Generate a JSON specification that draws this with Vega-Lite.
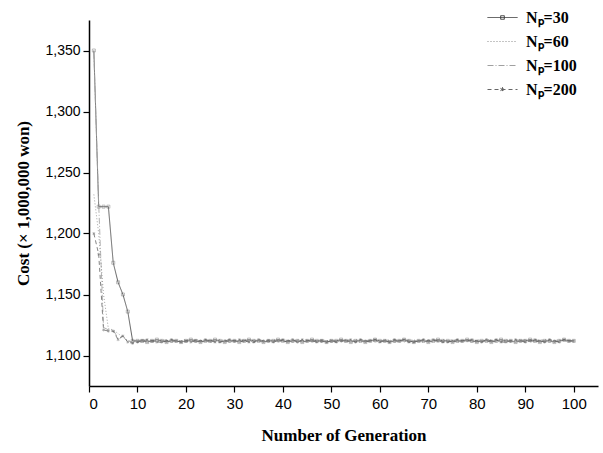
{
  "$schema": "https://vega.github.io/schema/vega-lite/v6.json",
  "width": 509,
  "height": 366,
  "autosize": {"type": "none"},
  "padding": {"left": 89, "top": 20, "right": 5, "bottom": 67},
  "background": "white",
  "config": {
    "view": {"stroke": null},
    "axis": {
      "grid": false,
      "domainColor": "black",
      "domainWidth": 1.5,
      "tickColor": "black",
      "tickWidth": 1.2,
      "labelColor": "black",
      "titleColor": "black",
      "labelFont": "Liberation Sans",
      "titleFont": "Liberation Serif",
      "titleFontWeight": "bold",
      "titleFontSize": 17
    }
  },
  "data": {
    "values": [
      {"g": 1, "n30": 1350, "n60": 1232, "n100": 1348, "n200": 1200},
      {"g": 2, "n30": 1222, "n60": 1200, "n100": 1224, "n200": 1183},
      {"g": 3, "n30": 1222, "n60": 1150, "n100": 1123, "n200": 1121},
      {"g": 4, "n30": 1222, "n60": 1122, "n100": 1121, "n200": 1120},
      {"g": 5, "n30": 1176, "n60": 1121, "n100": 1121, "n200": 1120},
      {"g": 6, "n30": 1160, "n60": 1118, "n100": 1114, "n200": 1113},
      {"g": 7, "n30": 1150, "n60": 1115, "n100": 1116, "n200": 1116},
      {"g": 8, "n30": 1136, "n60": 1112, "n100": 1112, "n200": 1111},
      {"g": 9, "n30": 1112, "n60": 1112, "n100": 1111, "n200": 1110},
      {"g": 10, "n30": 1112, "n60": 1111, "n100": 1112, "n200": 1111},
      {"g": 11, "n30": 1112, "n60": 1111, "n100": 1113, "n200": 1112},
      {"g": 12, "n30": 1111, "n60": 1112, "n100": 1112, "n200": 1113},
      {"g": 13, "n30": 1112, "n60": 1112, "n100": 1111, "n200": 1112},
      {"g": 14, "n30": 1113, "n60": 1111, "n100": 1112, "n200": 1111},
      {"g": 15, "n30": 1112, "n60": 1113, "n100": 1112, "n200": 1111},
      {"g": 16, "n30": 1111, "n60": 1112, "n100": 1113, "n200": 1112},
      {"g": 17, "n30": 1112, "n60": 1112, "n100": 1111, "n200": 1113},
      {"g": 18, "n30": 1112, "n60": 1111, "n100": 1112, "n200": 1112},
      {"g": 19, "n30": 1111, "n60": 1112, "n100": 1112, "n200": 1111},
      {"g": 20, "n30": 1112, "n60": 1113, "n100": 1111, "n200": 1112},
      {"g": 21, "n30": 1113, "n60": 1112, "n100": 1112, "n200": 1111},
      {"g": 22, "n30": 1112, "n60": 1111, "n100": 1113, "n200": 1112},
      {"g": 23, "n30": 1111, "n60": 1112, "n100": 1112, "n200": 1112},
      {"g": 24, "n30": 1112, "n60": 1112, "n100": 1112, "n200": 1113},
      {"g": 25, "n30": 1112, "n60": 1111, "n100": 1111, "n200": 1112},
      {"g": 26, "n30": 1113, "n60": 1112, "n100": 1112, "n200": 1111},
      {"g": 27, "n30": 1112, "n60": 1113, "n100": 1112, "n200": 1111},
      {"g": 28, "n30": 1111, "n60": 1112, "n100": 1113, "n200": 1112},
      {"g": 29, "n30": 1112, "n60": 1112, "n100": 1111, "n200": 1113},
      {"g": 30, "n30": 1112, "n60": 1111, "n100": 1112, "n200": 1112},
      {"g": 31, "n30": 1111, "n60": 1112, "n100": 1112, "n200": 1113},
      {"g": 32, "n30": 1112, "n60": 1113, "n100": 1111, "n200": 1112},
      {"g": 33, "n30": 1113, "n60": 1112, "n100": 1112, "n200": 1111},
      {"g": 34, "n30": 1112, "n60": 1111, "n100": 1113, "n200": 1111},
      {"g": 35, "n30": 1112, "n60": 1112, "n100": 1112, "n200": 1113},
      {"g": 36, "n30": 1111, "n60": 1112, "n100": 1111, "n200": 1112},
      {"g": 37, "n30": 1112, "n60": 1111, "n100": 1113, "n200": 1112},
      {"g": 38, "n30": 1112, "n60": 1113, "n100": 1112, "n200": 1111},
      {"g": 39, "n30": 1113, "n60": 1112, "n100": 1111, "n200": 1112},
      {"g": 40, "n30": 1112, "n60": 1112, "n100": 1112, "n200": 1113},
      {"g": 41, "n30": 1111, "n60": 1111, "n100": 1113, "n200": 1112},
      {"g": 42, "n30": 1112, "n60": 1112, "n100": 1111, "n200": 1113},
      {"g": 43, "n30": 1112, "n60": 1113, "n100": 1112, "n200": 1111},
      {"g": 44, "n30": 1111, "n60": 1112, "n100": 1112, "n200": 1113},
      {"g": 45, "n30": 1112, "n60": 1111, "n100": 1113, "n200": 1112},
      {"g": 46, "n30": 1113, "n60": 1112, "n100": 1111, "n200": 1112},
      {"g": 47, "n30": 1112, "n60": 1112, "n100": 1112, "n200": 1111},
      {"g": 48, "n30": 1112, "n60": 1111, "n100": 1113, "n200": 1112},
      {"g": 49, "n30": 1111, "n60": 1112, "n100": 1112, "n200": 1111},
      {"g": 50, "n30": 1112, "n60": 1113, "n100": 1111, "n200": 1112},
      {"g": 51, "n30": 1112, "n60": 1112, "n100": 1112, "n200": 1111},
      {"g": 52, "n30": 1113, "n60": 1112, "n100": 1111, "n200": 1112},
      {"g": 53, "n30": 1112, "n60": 1111, "n100": 1113, "n200": 1112},
      {"g": 54, "n30": 1111, "n60": 1112, "n100": 1112, "n200": 1113},
      {"g": 55, "n30": 1112, "n60": 1113, "n100": 1112, "n200": 1111},
      {"g": 56, "n30": 1112, "n60": 1112, "n100": 1111, "n200": 1113},
      {"g": 57, "n30": 1111, "n60": 1111, "n100": 1112, "n200": 1112},
      {"g": 58, "n30": 1112, "n60": 1112, "n100": 1113, "n200": 1112},
      {"g": 59, "n30": 1113, "n60": 1112, "n100": 1111, "n200": 1113},
      {"g": 60, "n30": 1112, "n60": 1111, "n100": 1112, "n200": 1111},
      {"g": 61, "n30": 1112, "n60": 1113, "n100": 1112, "n200": 1112},
      {"g": 62, "n30": 1111, "n60": 1112, "n100": 1113, "n200": 1111},
      {"g": 63, "n30": 1112, "n60": 1112, "n100": 1111, "n200": 1113},
      {"g": 64, "n30": 1112, "n60": 1111, "n100": 1112, "n200": 1112},
      {"g": 65, "n30": 1113, "n60": 1112, "n100": 1111, "n200": 1113},
      {"g": 66, "n30": 1112, "n60": 1112, "n100": 1113, "n200": 1111},
      {"g": 67, "n30": 1111, "n60": 1113, "n100": 1112, "n200": 1111},
      {"g": 68, "n30": 1112, "n60": 1111, "n100": 1112, "n200": 1112},
      {"g": 69, "n30": 1112, "n60": 1112, "n100": 1111, "n200": 1113},
      {"g": 70, "n30": 1111, "n60": 1112, "n100": 1113, "n200": 1112},
      {"g": 71, "n30": 1112, "n60": 1111, "n100": 1112, "n200": 1113},
      {"g": 72, "n30": 1113, "n60": 1112, "n100": 1111, "n200": 1112},
      {"g": 73, "n30": 1112, "n60": 1113, "n100": 1112, "n200": 1111},
      {"g": 74, "n30": 1112, "n60": 1112, "n100": 1112, "n200": 1111},
      {"g": 75, "n30": 1111, "n60": 1112, "n100": 1113, "n200": 1112},
      {"g": 76, "n30": 1112, "n60": 1111, "n100": 1112, "n200": 1113},
      {"g": 77, "n30": 1112, "n60": 1112, "n100": 1111, "n200": 1112},
      {"g": 78, "n30": 1113, "n60": 1113, "n100": 1112, "n200": 1112},
      {"g": 79, "n30": 1112, "n60": 1112, "n100": 1111, "n200": 1113},
      {"g": 80, "n30": 1111, "n60": 1111, "n100": 1113, "n200": 1112},
      {"g": 81, "n30": 1112, "n60": 1112, "n100": 1112, "n200": 1111},
      {"g": 82, "n30": 1112, "n60": 1112, "n100": 1113, "n200": 1113},
      {"g": 83, "n30": 1111, "n60": 1113, "n100": 1112, "n200": 1112},
      {"g": 84, "n30": 1112, "n60": 1111, "n100": 1112, "n200": 1113},
      {"g": 85, "n30": 1113, "n60": 1112, "n100": 1111, "n200": 1111},
      {"g": 86, "n30": 1112, "n60": 1112, "n100": 1113, "n200": 1111},
      {"g": 87, "n30": 1112, "n60": 1111, "n100": 1112, "n200": 1112},
      {"g": 88, "n30": 1111, "n60": 1112, "n100": 1111, "n200": 1113},
      {"g": 89, "n30": 1112, "n60": 1113, "n100": 1112, "n200": 1112},
      {"g": 90, "n30": 1112, "n60": 1112, "n100": 1113, "n200": 1111},
      {"g": 91, "n30": 1113, "n60": 1112, "n100": 1111, "n200": 1112},
      {"g": 92, "n30": 1112, "n60": 1111, "n100": 1112, "n200": 1113},
      {"g": 93, "n30": 1111, "n60": 1112, "n100": 1113, "n200": 1112},
      {"g": 94, "n30": 1112, "n60": 1113, "n100": 1112, "n200": 1111},
      {"g": 95, "n30": 1112, "n60": 1112, "n100": 1111, "n200": 1113},
      {"g": 96, "n30": 1111, "n60": 1111, "n100": 1112, "n200": 1112},
      {"g": 97, "n30": 1112, "n60": 1112, "n100": 1113, "n200": 1111},
      {"g": 98, "n30": 1113, "n60": 1112, "n100": 1112, "n200": 1113},
      {"g": 99, "n30": 1112, "n60": 1111, "n100": 1112, "n200": 1112},
      {"g": 100, "n30": 1112, "n60": 1112, "n100": 1111, "n200": 1112}
    ]
  },
  "transform": [{"fold": ["n30", "n60", "n100", "n200"], "as": ["series", "cost"]}],
  "layer": [
    {
      "mark": {"type": "line", "strokeWidth": 0.8, "clip": true},
      "encoding": {
        "x": {
          "field": "g",
          "type": "quantitative",
          "scale": {"domain": [0, 105], "nice": false},
          "axis": {
            "title": "Number of Generation",
            "values": [0, 5, 10, 15, 20, 25, 30, 35, 40, 45, 50, 55, 60, 65, 70, 75, 80, 85, 90, 95, 100],
            "labelExpr": "datum.value % 10 === 0 ? datum.label : ''",
            "labelFontSize": 15,
            "labelPadding": 4,
            "tickSize": 6,
            "titlePadding": 16
          }
        },
        "y": {
          "field": "cost",
          "type": "quantitative",
          "scale": {"domain": [1075, 1375], "nice": false, "zero": false},
          "axis": {
            "title": "Cost (× 1,000,000 won)",
            "values": [1100, 1125, 1150, 1175, 1200, 1225, 1250, 1275, 1300, 1325, 1350, 1375],
            "format": ",d",
            "labelExpr": "datum.value % 50 === 0 ? datum.label : ''",
            "labelFontSize": 14,
            "labelPadding": 3,
            "tickSize": 6,
            "titlePadding": 12
          }
        },
        "color": {
          "field": "series",
          "type": "nominal",
          "scale": {"domain": ["n30", "n60", "n100", "n200"], "range": ["#3a3a3a", "#8a8a8a", "#a0a0a0", "#666666"]},
          "legend": {
            "title": null,
            "orient": "none",
            "legendX": 398,
            "legendY": -18,
            "symbolSize": 900,
            "symbolStrokeWidth": 1,
            "rowPadding": -6,
            "labelOffset": 8,
            "labelFont": "Liberation Serif",
            "labelFontWeight": "bold",
            "labelFontSize": 16,
            "labelColor": "black",
            "labelExpr": "'Nₚ=' + slice(datum.label, 1)",
            "encode": {
              "symbols": {
                "update": {
                  "shape": {"signal": "datum.value === 'n30' ? 'M-1,0H1M-0.12,-0.12H0.12V0.12H-0.12Z' : datum.value === 'n200' ? 'M-1,0H1M0,-0.16V0.16M-0.14,-0.08L0.14,0.08M-0.14,0.08L0.14,-0.08' : 'M-1,0H1'"}
                }
              }
            }
          }
        },
        "strokeDash": {
          "field": "series",
          "type": "nominal",
          "scale": {"domain": ["n30", "n60", "n100", "n200"], "range": [[1, 0], [1, 2], [6, 2, 1, 2], [4, 3]]},
          "legend": {
            "title": null,
            "orient": "none",
            "legendX": 398,
            "legendY": -18,
            "symbolSize": 900,
            "symbolStrokeWidth": 1,
            "rowPadding": -6,
            "labelOffset": 8,
            "labelFont": "Liberation Serif",
            "labelFontWeight": "bold",
            "labelFontSize": 16,
            "labelColor": "black",
            "labelExpr": "'Nₚ=' + slice(datum.label, 1)",
            "encode": {
              "symbols": {
                "update": {
                  "shape": {"signal": "datum.value === 'n30' ? 'M-1,0H1M-0.12,-0.12H0.12V0.12H-0.12Z' : datum.value === 'n200' ? 'M-1,0H1M0,-0.16V0.16M-0.14,-0.08L0.14,0.08M-0.14,0.08L0.14,-0.08' : 'M-1,0H1'"}
                }
              }
            }
          }
        }
      }
    },
    {
      "transform": [{"filter": "datum.series === 'n30' || datum.series === 'n200'"}],
      "mark": {"type": "point", "filled": false, "size": 9, "strokeWidth": 0.6, "color": "#666666", "clip": true},
      "encoding": {
        "x": {"field": "g", "type": "quantitative"},
        "y": {"field": "cost", "type": "quantitative"},
        "shape": {
          "field": "series",
          "type": "nominal",
          "scale": {"domain": ["n30", "n200"], "range": ["square", "M0,-1V1M-0.87,-0.5L0.87,0.5M-0.87,0.5L0.87,-0.5"]},
          "legend": null
        }
      }
    }
  ]
}
